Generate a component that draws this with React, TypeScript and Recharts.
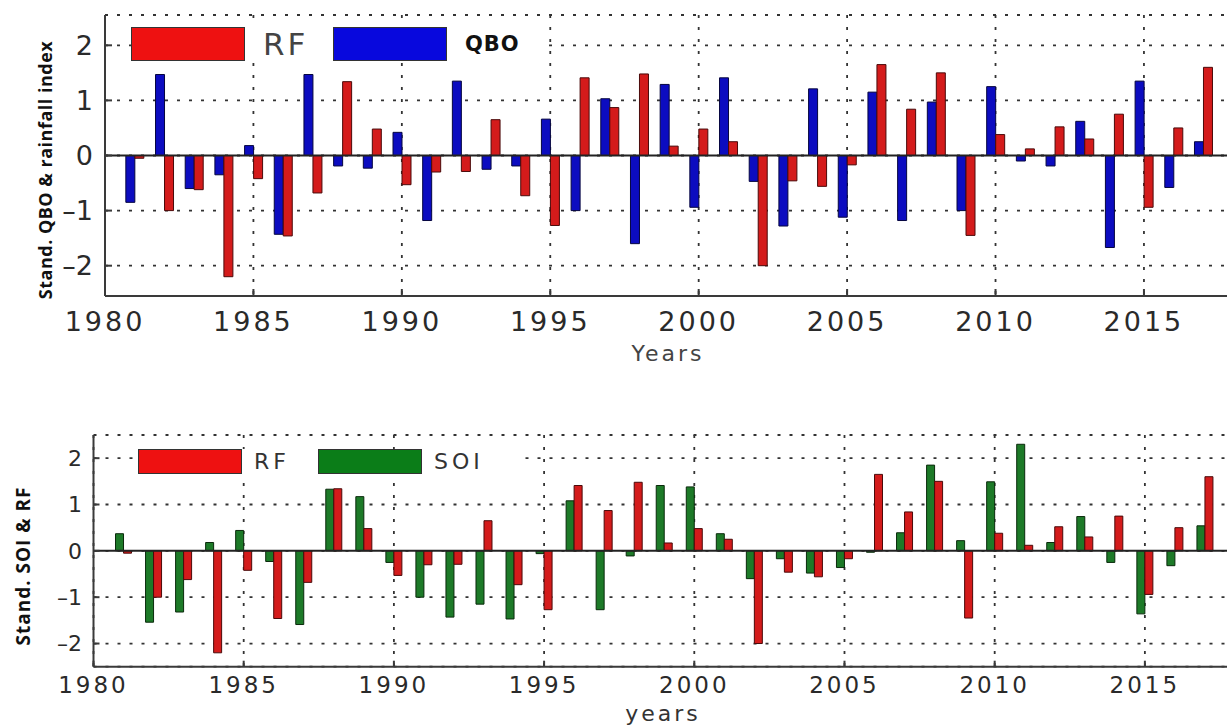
import React from "react";
import { BarChart, Bar, XAxis, YAxis, CartesianGrid, ReferenceLine, Legend } from "recharts";

// standardized anomalies, one value per year 1981..2017
const years = [
	1981, 1982, 1983, 1984, 1985, 1986, 1987, 1988, 1989, 1990, 1991, 1992, 1993,
	1994, 1995, 1996, 1997, 1998, 1999, 2000, 2001, 2002, 2003, 2004, 2005, 2006,
	2007, 2008, 2009, 2010, 2011, 2012, 2013, 2014, 2015, 2016, 2017,
];
const rf = [
	-0.05, -1.0, -0.62, -2.2, -0.42, -1.46, -0.68, 1.34, 0.48, -0.53, -0.3, -0.29, 0.65,
	-0.73, -1.27, 1.41, 0.87, 1.48, 0.17, 0.48, 0.25, -2.0, -0.46, -0.56, -0.17, 1.65,
	0.84, 1.5, -1.45, 0.38, 0.12, 0.52, 0.3, 0.75, -0.94, 0.5, 1.6,
];
const qbo = [
	-0.85, 1.47, -0.6, -0.35, 0.18, -1.43, 1.47, -0.19, -0.23, 0.42, -1.18, 1.35, -0.25,
	-0.19, 0.66, -1.0, 1.03, -1.6, 1.29, -0.94, 1.41, -0.47, -1.28, 1.21, -1.12, 1.15,
	-1.18, 0.97, -1.0, 1.25, -0.1, -0.19, 0.62, -1.67, 1.35, -0.58, 0.25,
];
const soi = [
	0.37, -1.54, -1.32, 0.18, 0.44, -0.23, -1.59, 1.33, 1.17, -0.25, -1.0, -1.43, -1.15,
	-1.47, -0.06, 1.08, -1.27, -0.11, 1.41, 1.38, 0.37, -0.6, -0.17, -0.48, -0.36, -0.03,
	0.39, 1.85, 0.22, 1.49, 2.3, 0.18, 0.74, -0.25, -1.36, -0.32, 0.54,
];
const yearTicks = [1980, 1985, 1990, 1995, 2000, 2005, 2010, 2015];
const valueTicks = [-2, -1, 0, 1, 2];

const data = years.map((year, i) => ({ year, rf: rf[i], qbo: qbo[i], soi: soi[i] }));

const FONT = "'DejaVu Sans', sans-serif";
const LABEL_FONT = "'Open Sans', sans-serif";
const AXIS = "#3a3a3a";
const GRID = "#333";
const TEXT = "#2a2a2a";

const COLORS = {
	rf: { fill: "#d41b1b", stroke: "#4a0a0a", swatch: "#ee1111" },
	qbo: { fill: "#0c0cc0", stroke: "#06063f", swatch: "#0808dd" },
	soi: { fill: "#1d7a28", stroke: "#0a2a0c", swatch: "#0b7d18" },
};

const fmtValue = (v: number) => (v < 0 ? `\u2013${Math.abs(v)}` : String(v));

interface LegendItem {
	label: string;
	swatch: string;
	textStyle: React.CSSProperties;
	labelWidth: number;
}

function makeLegend(items: LegendItem[], swW: number, swH: number, gap: number, after: number) {
	return () => (
		<div style={{ display: "flex", alignItems: "center", background: "white" }}>
			{items.map((it) => (
				<div key={it.label} style={{ display: "flex", alignItems: "center" }}>
					<div
						style={{
							width: swW,
							height: swH,
							background: it.swatch,
							border: "1.5px solid #333",
							boxSizing: "border-box",
							marginRight: gap,
						}}
					/>
					<div style={{ width: it.labelWidth, marginRight: after, whiteSpace: "nowrap", ...it.textStyle }}>
						{it.label}
					</div>
				</div>
			))}
		</div>
	);
}

const topLegend = makeLegend(
	[
		{
			label: "RF",
			swatch: COLORS.rf.swatch,
			labelWidth: 52,
			textStyle: { fontFamily: FONT, fontSize: 31, letterSpacing: 3, color: "#444", lineHeight: "34px" },
		},
		{
			label: "QBO",
			swatch: COLORS.qbo.swatch,
			labelWidth: 60,
			textStyle: { fontFamily: FONT, fontSize: 21, fontWeight: 700, letterSpacing: 1, color: "#111", lineHeight: "34px" },
		},
	],
	114,
	34,
	18,
	18,
);

const bottomLegend = makeLegend(
	[
		{
			label: "RF",
			swatch: COLORS.rf.swatch,
			labelWidth: 40,
			textStyle: { fontFamily: FONT, fontSize: 22, letterSpacing: 4, color: "#333", lineHeight: "25px" },
		},
		{
			label: "SOI",
			swatch: COLORS.soi.swatch,
			labelWidth: 60,
			textStyle: { fontFamily: FONT, fontSize: 22, letterSpacing: 4, color: "#333", lineHeight: "25px" },
		},
	],
	104,
	25,
	12,
	24,
);

export default function App() {
	return (
		<div
			style={{
				position: "absolute",
				left: 0,
				top: 0,
				width: 1227,
				height: 726,
				overflow: "hidden",
				background: "white",
			}}
		>
			{/* top panel: QBO vs rainfall */}
			<div style={{ position: "absolute", left: 0, top: 0 }}>
				<BarChart
					width={1240}
					height={380}
					data={data}
					margin={{ top: 15, right: 7, left: 65, bottom: 44 }}
					barSize={9}
					barGap={0}
				>
					<CartesianGrid stroke={GRID} strokeDasharray="3 9" strokeWidth={1.8} />
					<XAxis
						dataKey="year"
						type="number"
						domain={[1980, 2018]}
						ticks={yearTicks}
						allowDataOverflow
						height={40}
						axisLine={{ stroke: AXIS, strokeWidth: 2 }}
						tickLine={{ stroke: AXIS, strokeWidth: 2 }}
						tickSize={-7}
						tickMargin={23}
						tick={{ fill: TEXT, fontSize: 27, fontFamily: FONT, letterSpacing: 3 }}
					/>
					<XAxis
						xAxisId="top"
						orientation="top"
						type="number"
						domain={[1980, 2018]}
						ticks={yearTicks}
						allowDataOverflow
						height={0}
						axisLine={{ stroke: AXIS, strokeWidth: 2 }}
						tickLine={{ stroke: AXIS, strokeWidth: 2 }}
						tickSize={-7}
						tick={false}
					/>
					<YAxis
						type="number"
						domain={[-2.55, 2.55]}
						ticks={valueTicks}
						allowDataOverflow
						width={40}
						axisLine={{ stroke: AXIS, strokeWidth: 2 }}
						tickLine={{ stroke: AXIS, strokeWidth: 2 }}
						tickSize={-7}
						tickMargin={19}
						tickFormatter={fmtValue}
						tick={{ fill: TEXT, fontSize: 27, fontFamily: FONT }}
					/>
					<Legend
						layout="vertical"
						align="center"
						verticalAlign="middle"
						content={topLegend}
						wrapperStyle={{ left: 131, top: 27, width: "auto", height: 34 }}
					/>
					<Bar dataKey="qbo" fill={COLORS.qbo.fill} stroke={COLORS.qbo.stroke} strokeWidth={1} isAnimationActive={false} />
					<Bar dataKey="rf" fill={COLORS.rf.fill} stroke={COLORS.rf.stroke} strokeWidth={1} isAnimationActive={false} />
					<ReferenceLine y={0} stroke="#222" strokeWidth={2} />
				</BarChart>
			</div>
			<div
				style={{
					position: "absolute",
					left: 0,
					top: 341,
					width: 1336,
					textAlign: "center",
					fontFamily: FONT,
					fontSize: 22,
					letterSpacing: 3,
					color: "#444",
				}}
			>
				Years
			</div>
			<div
				style={{
					position: "absolute",
					left: 45,
					top: 170,
					transform: "translate(-50%, -50%) rotate(-90deg)",
					fontFamily: LABEL_FONT,
					fontWeight: 700,
					fontSize: 18,
					letterSpacing: 0.5,
					whiteSpace: "nowrap",
					color: "#111",
				}}
			>
				Stand. QBO &amp; rainfall index
			</div>

			{/* bottom panel: SOI vs rainfall */}
			<div style={{ position: "absolute", left: 0, top: 390 }}>
				<BarChart
					width={1250}
					height={336}
					data={data}
					margin={{ top: 45, right: 15, left: 53.5, bottom: 29.3 }}
					barSize={8}
					barGap={0}
				>
					<CartesianGrid stroke={GRID} strokeDasharray="3 9" strokeWidth={1.8} />
					<XAxis
						dataKey="year"
						type="number"
						domain={[1980, 2018]}
						ticks={yearTicks}
						allowDataOverflow
						height={30}
						axisLine={{ stroke: AXIS, strokeWidth: 2 }}
						tickLine={{ stroke: AXIS, strokeWidth: 2 }}
						tickSize={-6}
						tickMargin={16}
						tick={{ fill: TEXT, fontSize: 23, fontFamily: FONT, letterSpacing: 3 }}
					/>
					<XAxis
						xAxisId="top"
						orientation="top"
						type="number"
						domain={[1980, 2018]}
						ticks={yearTicks}
						allowDataOverflow
						height={0}
						axisLine={{ stroke: AXIS, strokeWidth: 2 }}
						tickLine={{ stroke: AXIS, strokeWidth: 2 }}
						tickSize={-6}
						tick={false}
					/>
					<YAxis
						type="number"
						domain={[-2.5, 2.5]}
						ticks={valueTicks}
						allowDataOverflow
						width={40}
						axisLine={{ stroke: AXIS, strokeWidth: 2 }}
						tickLine={{ stroke: AXIS, strokeWidth: 2 }}
						tickSize={-6}
						tickMargin={17.5}
						tickFormatter={fmtValue}
						tick={{ fill: TEXT, fontSize: 22, fontFamily: FONT }}
					/>
					<Legend
						layout="vertical"
						align="center"
						verticalAlign="middle"
						content={bottomLegend}
						wrapperStyle={{ left: 138, top: 59, width: "auto", height: 25 }}
					/>
					<Bar dataKey="soi" fill={COLORS.soi.fill} stroke={COLORS.soi.stroke} strokeWidth={1} isAnimationActive={false} />
					<Bar dataKey="rf" fill={COLORS.rf.fill} stroke={COLORS.rf.stroke} strokeWidth={1} isAnimationActive={false} />
					<ReferenceLine y={0} stroke="#222" strokeWidth={2} />
				</BarChart>
			</div>
			<div
				style={{
					position: "absolute",
					left: 0,
					top: 701,
					width: 1326,
					textAlign: "center",
					fontFamily: FONT,
					fontSize: 22,
					letterSpacing: 3,
					color: "#333",
				}}
			>
				years
			</div>
			<div
				style={{
					position: "absolute",
					left: 23,
					top: 566,
					transform: "translate(-50%, -50%) rotate(-90deg)",
					fontFamily: LABEL_FONT,
					fontWeight: 700,
					fontSize: 19,
					letterSpacing: 1,
					whiteSpace: "nowrap",
					color: "#111",
				}}
			>
				Stand. SOI &amp; RF
			</div>
		</div>
	);
}
